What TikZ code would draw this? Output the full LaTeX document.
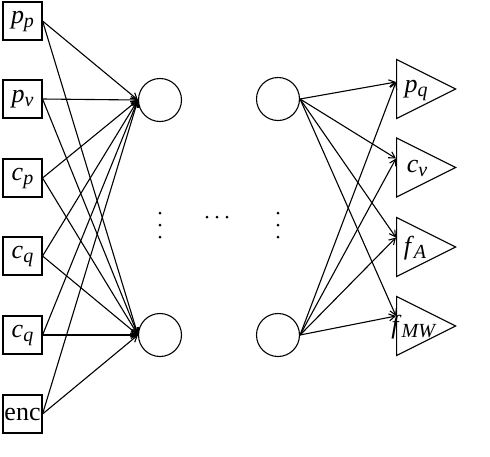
\documentclass[tikz,border=0pt]{standalone}
\usepackage{fontspec}
\setmainfont{Liberation Serif}
\usetikzlibrary{shapes.geometric,arrows.meta,calc}
\newcommand{\lblsub}[2]{\textit{#1}\raisebox{-4pt}{\fontsize{20}{20}\selectfont\textit{#2}}}
\begin{document}
\begin{tikzpicture}[x=1pt,y=-1pt,
  inbox/.style={draw,line width=1.1pt,minimum width=39pt,minimum height=38pt,inner sep=0pt,font=\fontsize{26}{28}\selectfont},
  unit/.style={draw,circle,line width=1.1pt,minimum size=43pt,inner sep=0pt},
  outtri/.style={draw,isosceles triangle,isosceles triangle stretches,minimum width=59pt,minimum height=59pt,inner sep=0pt,line width=1.1pt,anchor=lower side},
  outlbl/.style={inner sep=0pt,font=\fontsize{26}{28}\selectfont},
  conn/.style={line width=1.1pt,-{Straight Barb[length=6pt,width=7pt]}},
  dotm/.style={fill,circle,inner sep=0pt,minimum size=3pt}]
\useasboundingbox (0,0) rectangle (490,456);
% inputs
\node[inbox] (i1) at (22.5,21) {\lblsub{p}{p}};
\node[inbox] (i2) at (22.5,99) {\lblsub{p}{v}};
\node[inbox] (i3) at (22.5,178) {\lblsub{c}{p}};
\node[inbox] (i4) at (22.5,256) {\lblsub{c}{q}};
\node[inbox] (i5) at (22.5,335) {\lblsub{c}{q}};
\node[inbox] (i6) at (22.5,414) {enc};
% hidden units
\node[unit] (h1) at (160,100) {};
\node[unit] (h2) at (160,335) {};
\node[unit] (g1) at (278,99) {};
\node[unit] (g2) at (278,335) {};
% outputs
\node[outtri] (o1) at (396,89) {};
\node[outtri] (o2) at (396,167.5) {};
\node[outtri] (o3) at (396,247) {};
\node[outtri] (o4) at (396,326) {};
\node[outlbl] (l1) at (416,90) {\lblsub{p}{q}};
\node[outlbl] (l2) at (417,168) {\lblsub{c}{v}};
\node[outlbl] (l3) at (415,248) {\lblsub{f}{A}};
\node[outlbl] (l4) at (414,327) {\lblsub{f}{MW}};
\coordinate (e1) at ($(o1.lower side)+(0,-7)$);
\coordinate (e2) at ($(o2.lower side)+(0,-9)$);
\coordinate (e3) at ($(o3.lower side)+(0,-9.5)$);
\coordinate (e4) at ($(o4.lower side)+(0,-10)$);
% connections inputs -> hidden
\foreach \i in {i1,i2,i3,i4,i5,i6}{
  \draw[conn] (\i.east) -- (h1.west);
  \draw[conn] (\i.east) -- (h2.west);
}
% connections last hidden -> outputs
\foreach \e in {e1,e2,e3,e4}{
  \draw[conn] (g1.east) -- (\e);
  \draw[conn] (g2.east) -- (\e);
}
% dots
\node[dotm] (d1) at (160,213) {};
\node[dotm] (d2) at (160,225) {};
\node[dotm] (d3) at (160,237) {};
\node[dotm] (d4) at (207,217) {};
\node[dotm] (d5) at (217,217) {};
\node[dotm] (d6) at (227,217) {};
\node[dotm] (d7) at (278,213) {};
\node[dotm] (d8) at (278,225) {};
\node[dotm] (d9) at (278,237) {};
\end{tikzpicture}
\end{document}
